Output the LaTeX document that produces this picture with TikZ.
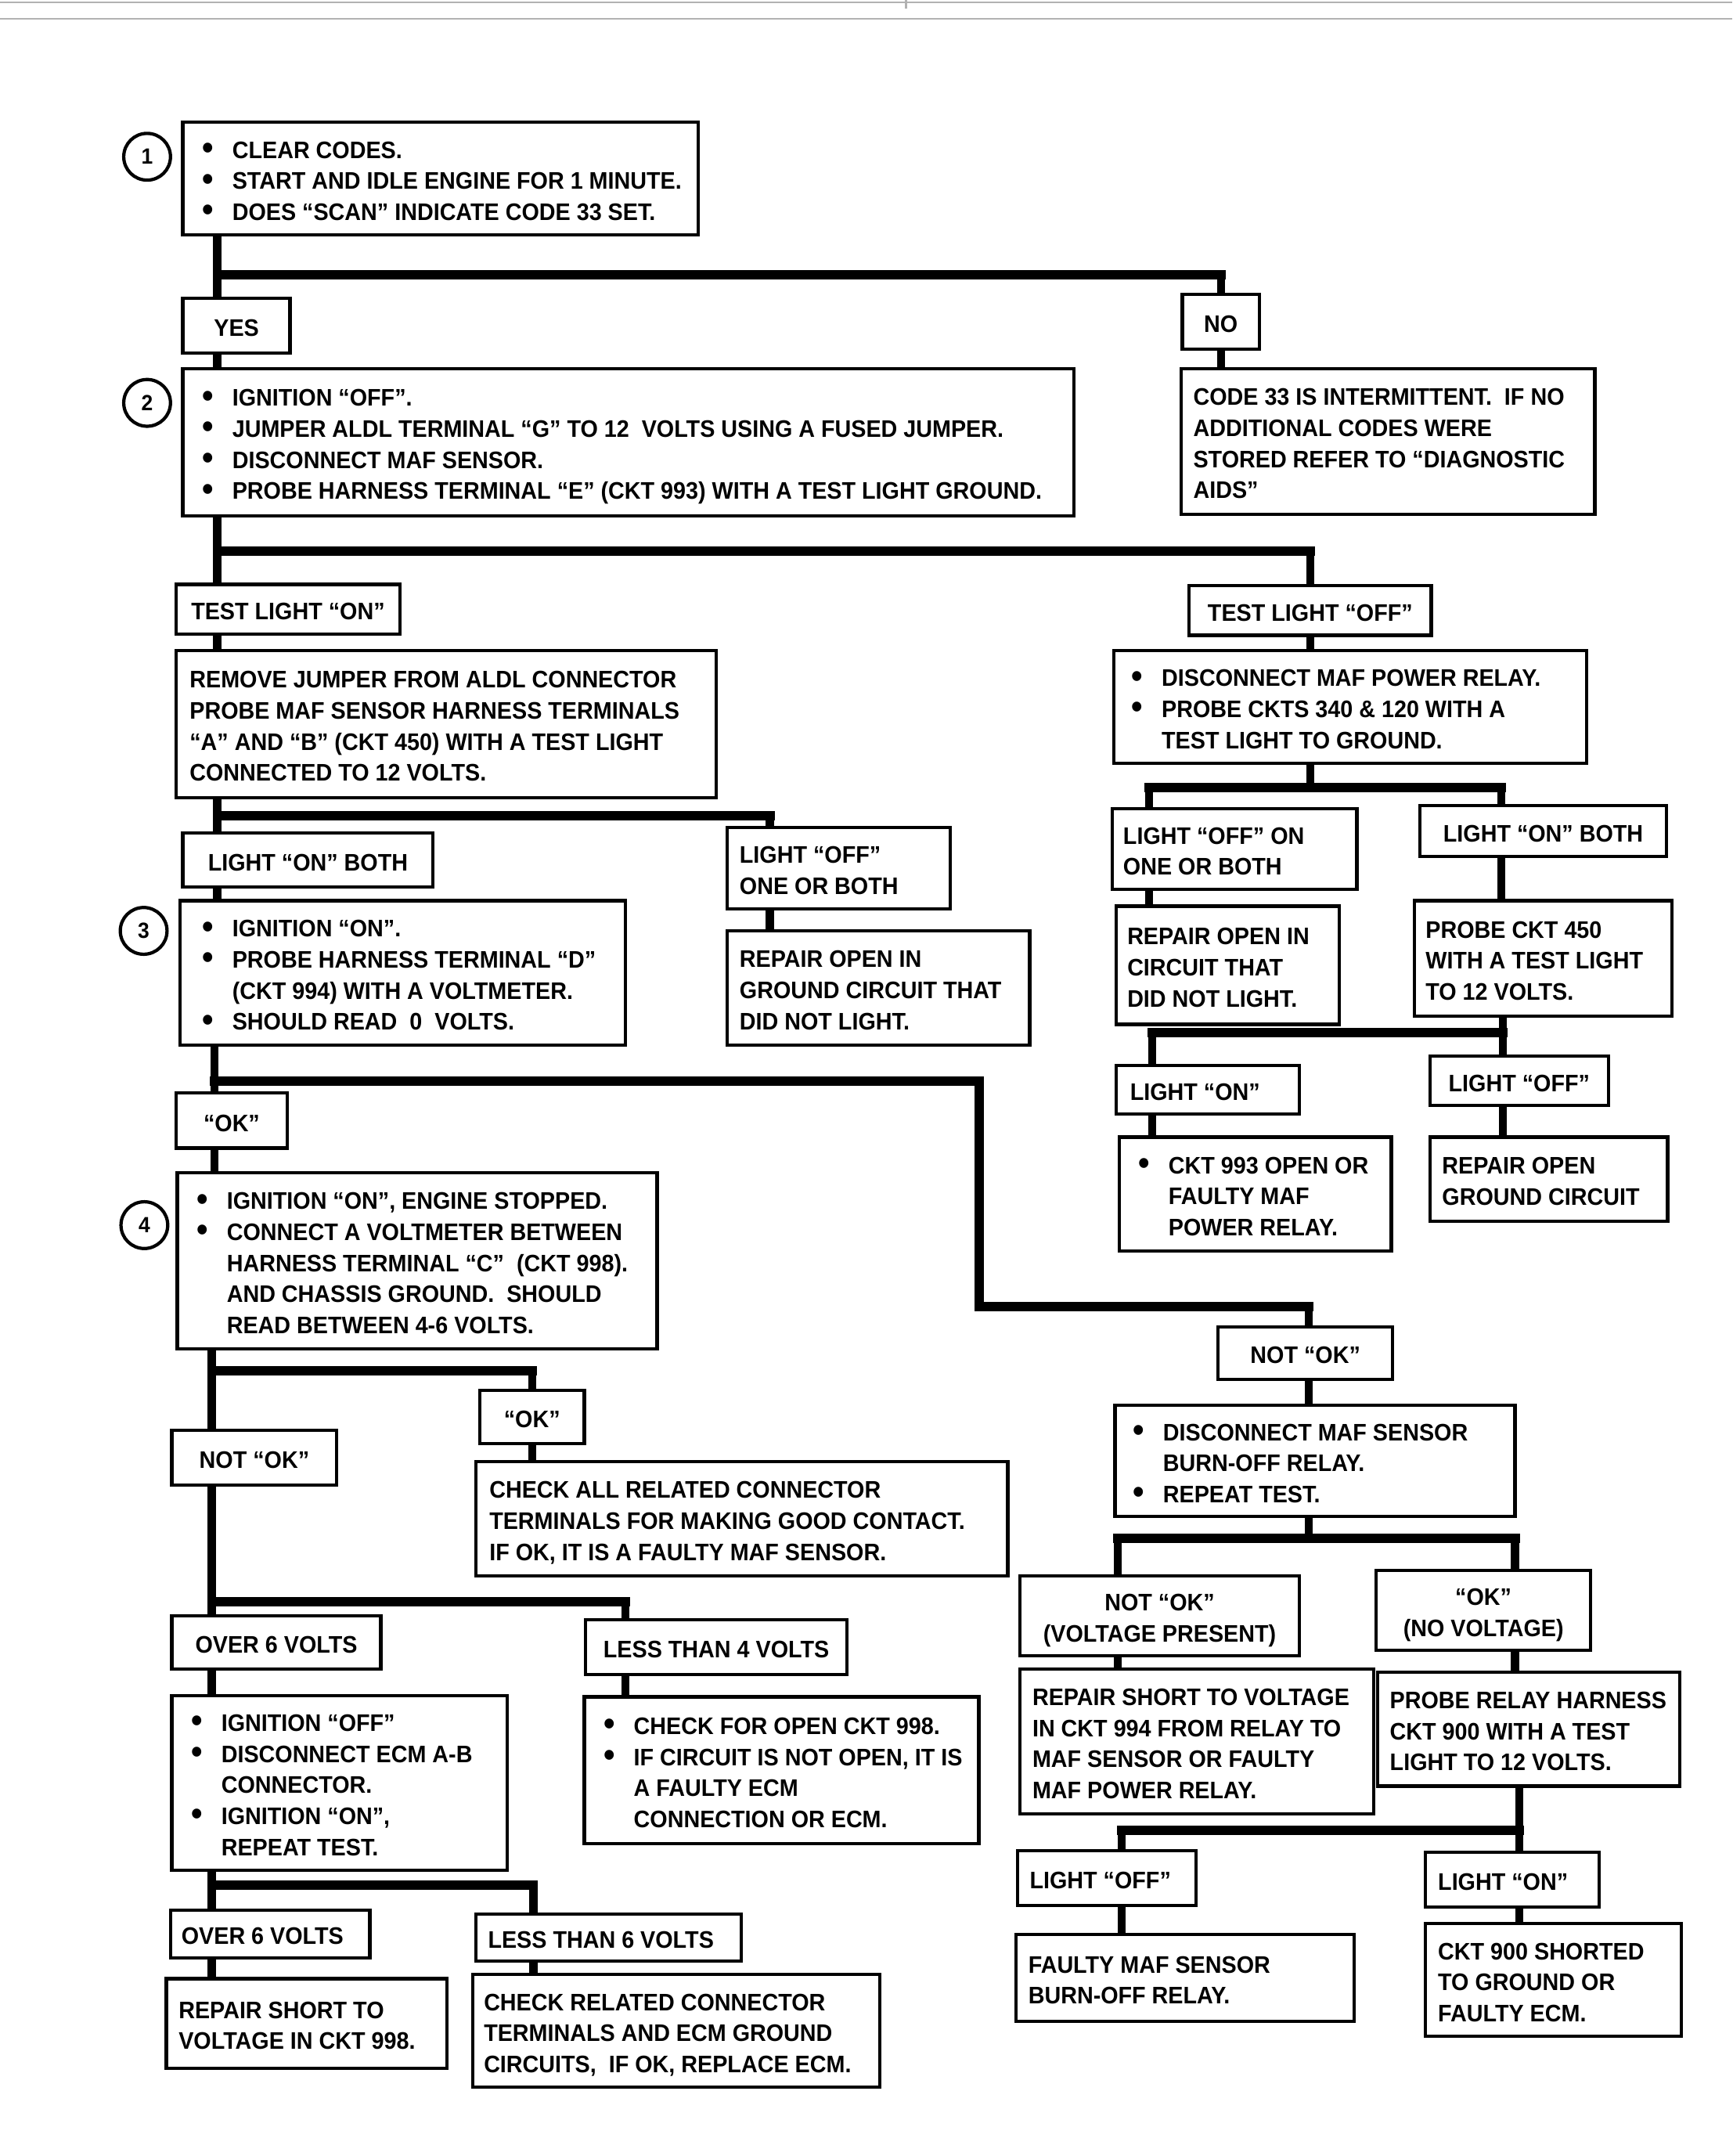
\documentclass[tikz,border=0pt]{standalone}
\usepackage{fontspec}
\newfontfamily\diag[FakeStretch=0.94]{Liberation Sans Bold}
\usetikzlibrary{calc}
\newlength\bind
\setlength\bind{11pt}
\newcommand\diagfont{\diag\fontsize{8.7pt}{11.3pt}\selectfont}
\newcommand\bul[1]{\makebox[\bind][l]{\raisebox{-0.4pt}{\fontsize{12.5pt}{11pt}\selectfont\textbullet}}#1}
\newcommand\cnt[1]{\hspace*{\bind}#1}
\newcommand\mkbox[8]{%
  \pgfmathsetmacro\bw{(#4-#2)*0.5}%
  \pgfmathsetmacro\bh{(#5-#3)*0.5}%
  \pgfmathsetmacro\bm{#6*0.5}%
  \pgfmathsetmacro\btw{\bw-2*\bm}%
  \node[box, minimum height=\bh pt, inner xsep=\bm pt] (#1) at ({(#2+#4)/2},{(#3+#5)/2})
    {\raisebox{-1.6pt}[\height][\depth]{\makebox[\btw pt][#7]{\begin{tabular}{@{}#7@{}}#8\end{tabular}}}};%
}
\tikzset{
  box/.style={draw, line width=1.2pt, fill=white, inner ysep=1pt, font=\diagfont},
  circ/.style={draw, circle, line width=1.2pt, minimum size=17pt, inner sep=0pt,
               font=\diag\fontsize{8pt}{8pt}\selectfont},
  drop/.style={line width=2.9pt},
  bar/.style={line width=3.4pt, line cap=rect},
  hdr/.style={gray!60, line width=0.6pt}
}
\begin{document}
\begin{tikzpicture}[x=0.5pt, y=-0.5pt]
\fill[white] (0,0) rectangle (1260,1568);
\useasboundingbox (0,0) rectangle (1260,1568);
% header rules
\draw[hdr] (0,1.5) -- (1260,1.5);
\draw[hdr] (0,13.5) -- (1260,13.5);
\draw[hdr] (659,0) -- (659,6);

% step circles
\node[circ] (c1) at (107,114) {1};
\node[circ] (c2) at (107,293) {2};
\node[circ] (c3) at (104.5,677) {3};
\node[circ] (c4) at (105,891) {4};

% boxes
\mkbox{b1}{133}{89}{508}{171}{14}{l}{\bul{CLEAR CODES.}\\\bul{START AND IDLE ENGINE FOR 1 MINUTE.}\\\bul{DOES “SCAN” INDICATE CODE 33 SET.}}
\mkbox{yes}{133}{217}{211}{257}{4}{c}{YES}
\mkbox{no}{860}{214}{916}{254}{4}{c}{NO}
\mkbox{b2}{133}{268}{781}{375}{14}{l}{\bul{IGNITION “OFF”.}\\\bul{JUMPER ALDL TERMINAL “G” TO 12~ VOLTS USING A FUSED JUMPER.}\\\bul{DISCONNECT MAF SENSOR.}\\\bul{PROBE HARNESS TERMINAL “E” (CKT 993) WITH A TEST LIGHT GROUND.}}
\mkbox{code33}{859}{268}{1160}{374}{9}{l}{CODE 33 IS INTERMITTENT.~ IF NO\\ADDITIONAL CODES WERE\\STORED REFER TO “DIAGNOSTIC\\AIDS”}
\mkbox{tlon}{128}{425}{291}{461}{6}{c}{TEST LIGHT “ON”}
\mkbox{tloff}{865}{426}{1041}{462}{6}{c}{TEST LIGHT “OFF”}
\mkbox{remove}{128}{473}{521}{580}{10}{l}{REMOVE JUMPER FROM ALDL CONNECTOR\\PROBE MAF SENSOR HARNESS TERMINALS\\“A” AND “B” (CKT 450) WITH A TEST LIGHT\\CONNECTED TO 12 VOLTS.}
\mkbox{disc}{810}{473}{1154}{555}{13}{l}{\bul{DISCONNECT MAF POWER RELAY.}\\\bul{PROBE CKTS 340 \& 120 WITH A}\\\cnt{TEST LIGHT TO GROUND.}}
\mkbox{lonboth}{133}{606}{315}{645}{6}{c}{LIGHT “ON” BOTH}
\mkbox{loffone}{529}{602}{691}{661}{9}{l}{LIGHT “OFF”\\ONE OR BOTH}
\mkbox{b3}{131}{655}{455}{760}{16}{l}{\bul{IGNITION “ON”.}\\\bul{PROBE HARNESS TERMINAL “D”}\\\cnt{(CKT 994) WITH A VOLTMETER.}\\\bul{SHOULD READ~ 0~ VOLTS.}}
\mkbox{repgnd}{529}{677}{749}{760}{9}{l}{REPAIR OPEN IN\\GROUND CIRCUIT THAT\\DID NOT LIGHT.}
\mkbox{loffon}{809}{588}{987}{647}{8}{l}{LIGHT “OFF” ON\\ONE OR BOTH}
\mkbox{lonboth2}{1033}{586}{1212}{623}{6}{c}{LIGHT “ON” BOTH}
\mkbox{repcirc}{812}{659}{974}{745}{8}{l}{REPAIR OPEN IN\\CIRCUIT THAT\\DID NOT LIGHT.}
\mkbox{probe450}{1029}{655}{1216}{739}{8}{l}{PROBE CKT 450\\WITH A TEST LIGHT\\TO 12 VOLTS.}
\mkbox{lon3}{812}{775}{945}{810}{10}{l}{LIGHT “ON”}
\mkbox{loff3}{1040}{768}{1170}{804}{6}{c}{LIGHT “OFF”}
\mkbox{ckt993}{814}{827}{1012}{910}{14}{l}{\bul{CKT 993 OPEN OR}\\\cnt{FAULTY MAF}\\\cnt{POWER RELAY.}}
\mkbox{repgc}{1040}{827}{1213}{888}{9}{l}{REPAIR OPEN\\GROUND CIRCUIT}
\mkbox{ok1}{128}{795}{209}{835}{4}{c}{“OK”}
\mkbox{b4}{129}{853}{478}{981}{14}{l}{\bul{IGNITION “ON”, ENGINE STOPPED.}\\\bul{CONNECT A VOLTMETER BETWEEN}\\\cnt{HARNESS TERMINAL “C”~ (CKT 998).}\\\cnt{AND CHASSIS GROUND.~ SHOULD}\\\cnt{READ BETWEEN 4-6 VOLTS.}}
\mkbox{notok2}{886}{965}{1013}{1003}{6}{c}{NOT “OK”}
\mkbox{ok2}{349}{1011}{425}{1050}{4}{c}{“OK”}
\mkbox{notok1}{125}{1040}{245}{1080}{6}{c}{NOT “OK”}
\mkbox{checkall}{346}{1063}{733}{1146}{10}{l}{CHECK ALL RELATED CONNECTOR\\TERMINALS FOR MAKING GOOD CONTACT.\\IF OK, IT IS A FAULTY MAF SENSOR.}
\mkbox{discsens}{811}{1022}{1102}{1103}{13}{l}{\bul{DISCONNECT MAF SENSOR}\\\cnt{BURN-OFF RELAY.}\\\bul{REPEAT TEST.}}
\mkbox{over6a}{125}{1175}{277}{1214}{6}{c}{OVER 6 VOLTS}
\mkbox{less4}{426}{1178}{616}{1218}{6}{c}{LESS THAN 4 VOLTS}
\mkbox{ign}{125}{1233}{369}{1360}{14}{l}{\bul{IGNITION “OFF”}\\\bul{DISCONNECT ECM A-B}\\\cnt{CONNECTOR.}\\\bul{IGNITION “ON”,}\\\cnt{REPEAT TEST.}}
\mkbox{chkopen}{425}{1234}{712}{1341}{14}{l}{\bul{CHECK FOR OPEN CKT 998.}\\\bul{IF CIRCUIT IS NOT OPEN, IT IS}\\\cnt{A FAULTY ECM}\\\cnt{CONNECTION OR ECM.}}
\mkbox{notokv}{742}{1146}{945}{1204}{6}{c}{NOT “OK”\\(VOLTAGE PRESENT)}
\mkbox{oknv}{1001}{1142}{1157}{1200}{6}{c}{“OK”\\(NO VOLTAGE)}
\mkbox{repshort}{742}{1214}{999}{1319}{9}{l}{REPAIR SHORT TO VOLTAGE\\IN CKT 994 FROM RELAY TO\\MAF SENSOR OR FAULTY\\MAF POWER RELAY.}
\mkbox{proberel}{1002}{1216}{1222}{1299}{9}{l}{PROBE RELAY HARNESS\\CKT 900 WITH A TEST\\LIGHT TO 12 VOLTS.}
\mkbox{over6b}{124}{1389}{269}{1424}{8}{l}{OVER 6 VOLTS}
\mkbox{less6}{346}{1392}{539}{1426}{9}{l}{LESS THAN 6 VOLTS}
\mkbox{rep998}{121}{1439}{325}{1504}{9}{l}{REPAIR SHORT TO\\VOLTAGE IN CKT 998.}
\mkbox{chkrel}{344}{1436}{640}{1518}{8}{l}{CHECK RELATED CONNECTOR\\TERMINALS AND ECM GROUND\\CIRCUITS,~ IF OK, REPLACE ECM.}
\mkbox{loff4}{740}{1346}{870}{1386}{9}{l}{LIGHT “OFF”}
\mkbox{lon4}{1037}{1347}{1163}{1387}{9}{l}{LIGHT “ON”}
\mkbox{faulty}{739}{1407}{985}{1470}{9}{l}{FAULTY MAF SENSOR\\BURN-OFF RELAY.}
\mkbox{ckt900}{1037}{1399}{1223}{1481}{9}{l}{CKT 900 SHORTED\\TO GROUND OR\\FAULTY ECM.}

% junction points
\coordinate (j1) at (158,200);
\coordinate (j2) at (158,401);
\coordinate (j3) at (158,593);
\coordinate (j3r) at (560,593);
\coordinate (j4) at (953,573);
\coordinate (j4l) at (836,573);
\coordinate (j4r) at (1092,573);
\coordinate (j5l) at (838,751);
\coordinate (j5r) at (1093,751);
\coordinate (j6) at (156,786);
\coordinate (j6a) at (712,786);
\coordinate (j6b) at (712,950);
\coordinate (j6c) at (952,950);
\coordinate (j7) at (154,997);
\coordinate (j8) at (154,1165);
\coordinate (j8r) at (455,1165);
\coordinate (j9) at (154,1371);
\coordinate (j9r) at (388,1371);
\coordinate (j10) at (952,1119);
\coordinate (j10l) at (813,1119);
\coordinate (j10r) at (1102,1119);
\coordinate (j11) at (1105,1331);
\coordinate (j11l) at (816,1331);

% connectors
\draw[drop] (b1.south -| j1) -- (yes.north -| j1);
\draw[bar] (j1) -- (j1 -| no.north);
\draw[drop] (j1 -| no.north) -- (no.north);
\draw[drop] (yes.south -| j1) -- (b2.north -| j1);
\draw[drop] (no.south) -- (no.south |- code33.north);
\draw[drop] (b2.south -| j2) -- (tlon.north -| j2);
\draw[bar] (j2) -- (j2 -| tloff.north);
\draw[drop] (j2 -| tloff.north) -- (tloff.north);
\draw[drop] (tlon.south -| j2) -- (remove.north -| j2);
\draw[drop] (tloff.south) -- (tloff.south |- disc.north);
\draw[drop] (remove.south -| j3) -- (lonboth.north -| j3);
\draw[bar] (j3) -- (j3r);
\draw[drop] (j3r) -- (j3r |- loffone.north);
\draw[drop] (lonboth.south -| j3) -- (b3.north -| j3);
\draw[drop] (loffone.south -| j3r) -- (repgnd.north -| j3r);
\draw[drop] (disc.south -| j4) -- (j4);
\draw[bar] (j4l) -- (j4r);
\draw[drop] (j4l) -- (j4l |- loffon.north);
\draw[drop] (j4r) -- (j4r |- lonboth2.north);
\draw[drop] (loffon.south -| j4l) -- (repcirc.north -| j4l);
\draw[drop] (lonboth2.south -| j4r) -- (probe450.north -| j4r);
\draw[drop] (probe450.south -| j5r) -- (loff3.north -| j5r);
\draw[bar] (j5l) -- (j5r);
\draw[drop] (j5l) -- (j5l |- lon3.north);
\draw[drop] (lon3.south -| j5l) -- (ckt993.north -| j5l);
\draw[drop] (loff3.south -| j5r) -- (repgc.north -| j5r);
\draw[drop] (b3.south -| j6) -- (ok1.north -| j6);
\draw[bar, line join=miter] (j6) -- (j6a) -- (j6b) -- (j6c);
\draw[drop] (j6c) -- (j6c |- notok2.north);
\draw[drop] (ok1.south -| j6) -- (b4.north -| j6);
\draw[drop] (notok2.south -| j6c) -- (discsens.north -| j6c);
\draw[drop] (b4.south -| j7) -- (notok1.north -| j7);
\draw[bar] (j7) -- (j7 -| ok2.north);
\draw[drop] (j7 -| ok2.north) -- (ok2.north);
\draw[drop] (ok2.south) -- (ok2.south |- checkall.north);
\draw[drop] (notok1.south -| j8) -- (over6a.north -| j8);
\draw[bar] (j8) -- (j8r);
\draw[drop] (j8r) -- (j8r |- less4.north);
\draw[drop] (over6a.south -| j8) -- (ign.north -| j8);
\draw[drop] (less4.south -| j8r) -- (chkopen.north -| j8r);
\draw[drop] (ign.south -| j9) -- (over6b.north -| j9);
\draw[bar] (j9) -- (j9r);
\draw[drop] (j9r) -- (j9r |- less6.north);
\draw[drop] (over6b.south -| j9) -- (rep998.north -| j9);
\draw[drop] (less6.south -| j9r) -- (chkrel.north -| j9r);
\draw[drop] (discsens.south -| j10) -- (j10);
\draw[bar] (j10l) -- (j10r);
\draw[drop] (j10l) -- (j10l |- notokv.north);
\draw[drop] (j10r) -- (j10r |- oknv.north);
\draw[drop] (notokv.south -| j10l) -- (repshort.north -| j10l);
\draw[drop] (oknv.south -| j10r) -- (proberel.north -| j10r);
\draw[drop] (proberel.south -| j11) -- (lon4.north -| j11);
\draw[bar] (j11l) -- (j11);
\draw[drop] (j11l) -- (j11l |- loff4.north);
\draw[drop] (loff4.south -| j11l) -- (faulty.north -| j11l);
\draw[drop] (lon4.south -| j11) -- (ckt900.north -| j11);
\end{tikzpicture}
\end{document}
